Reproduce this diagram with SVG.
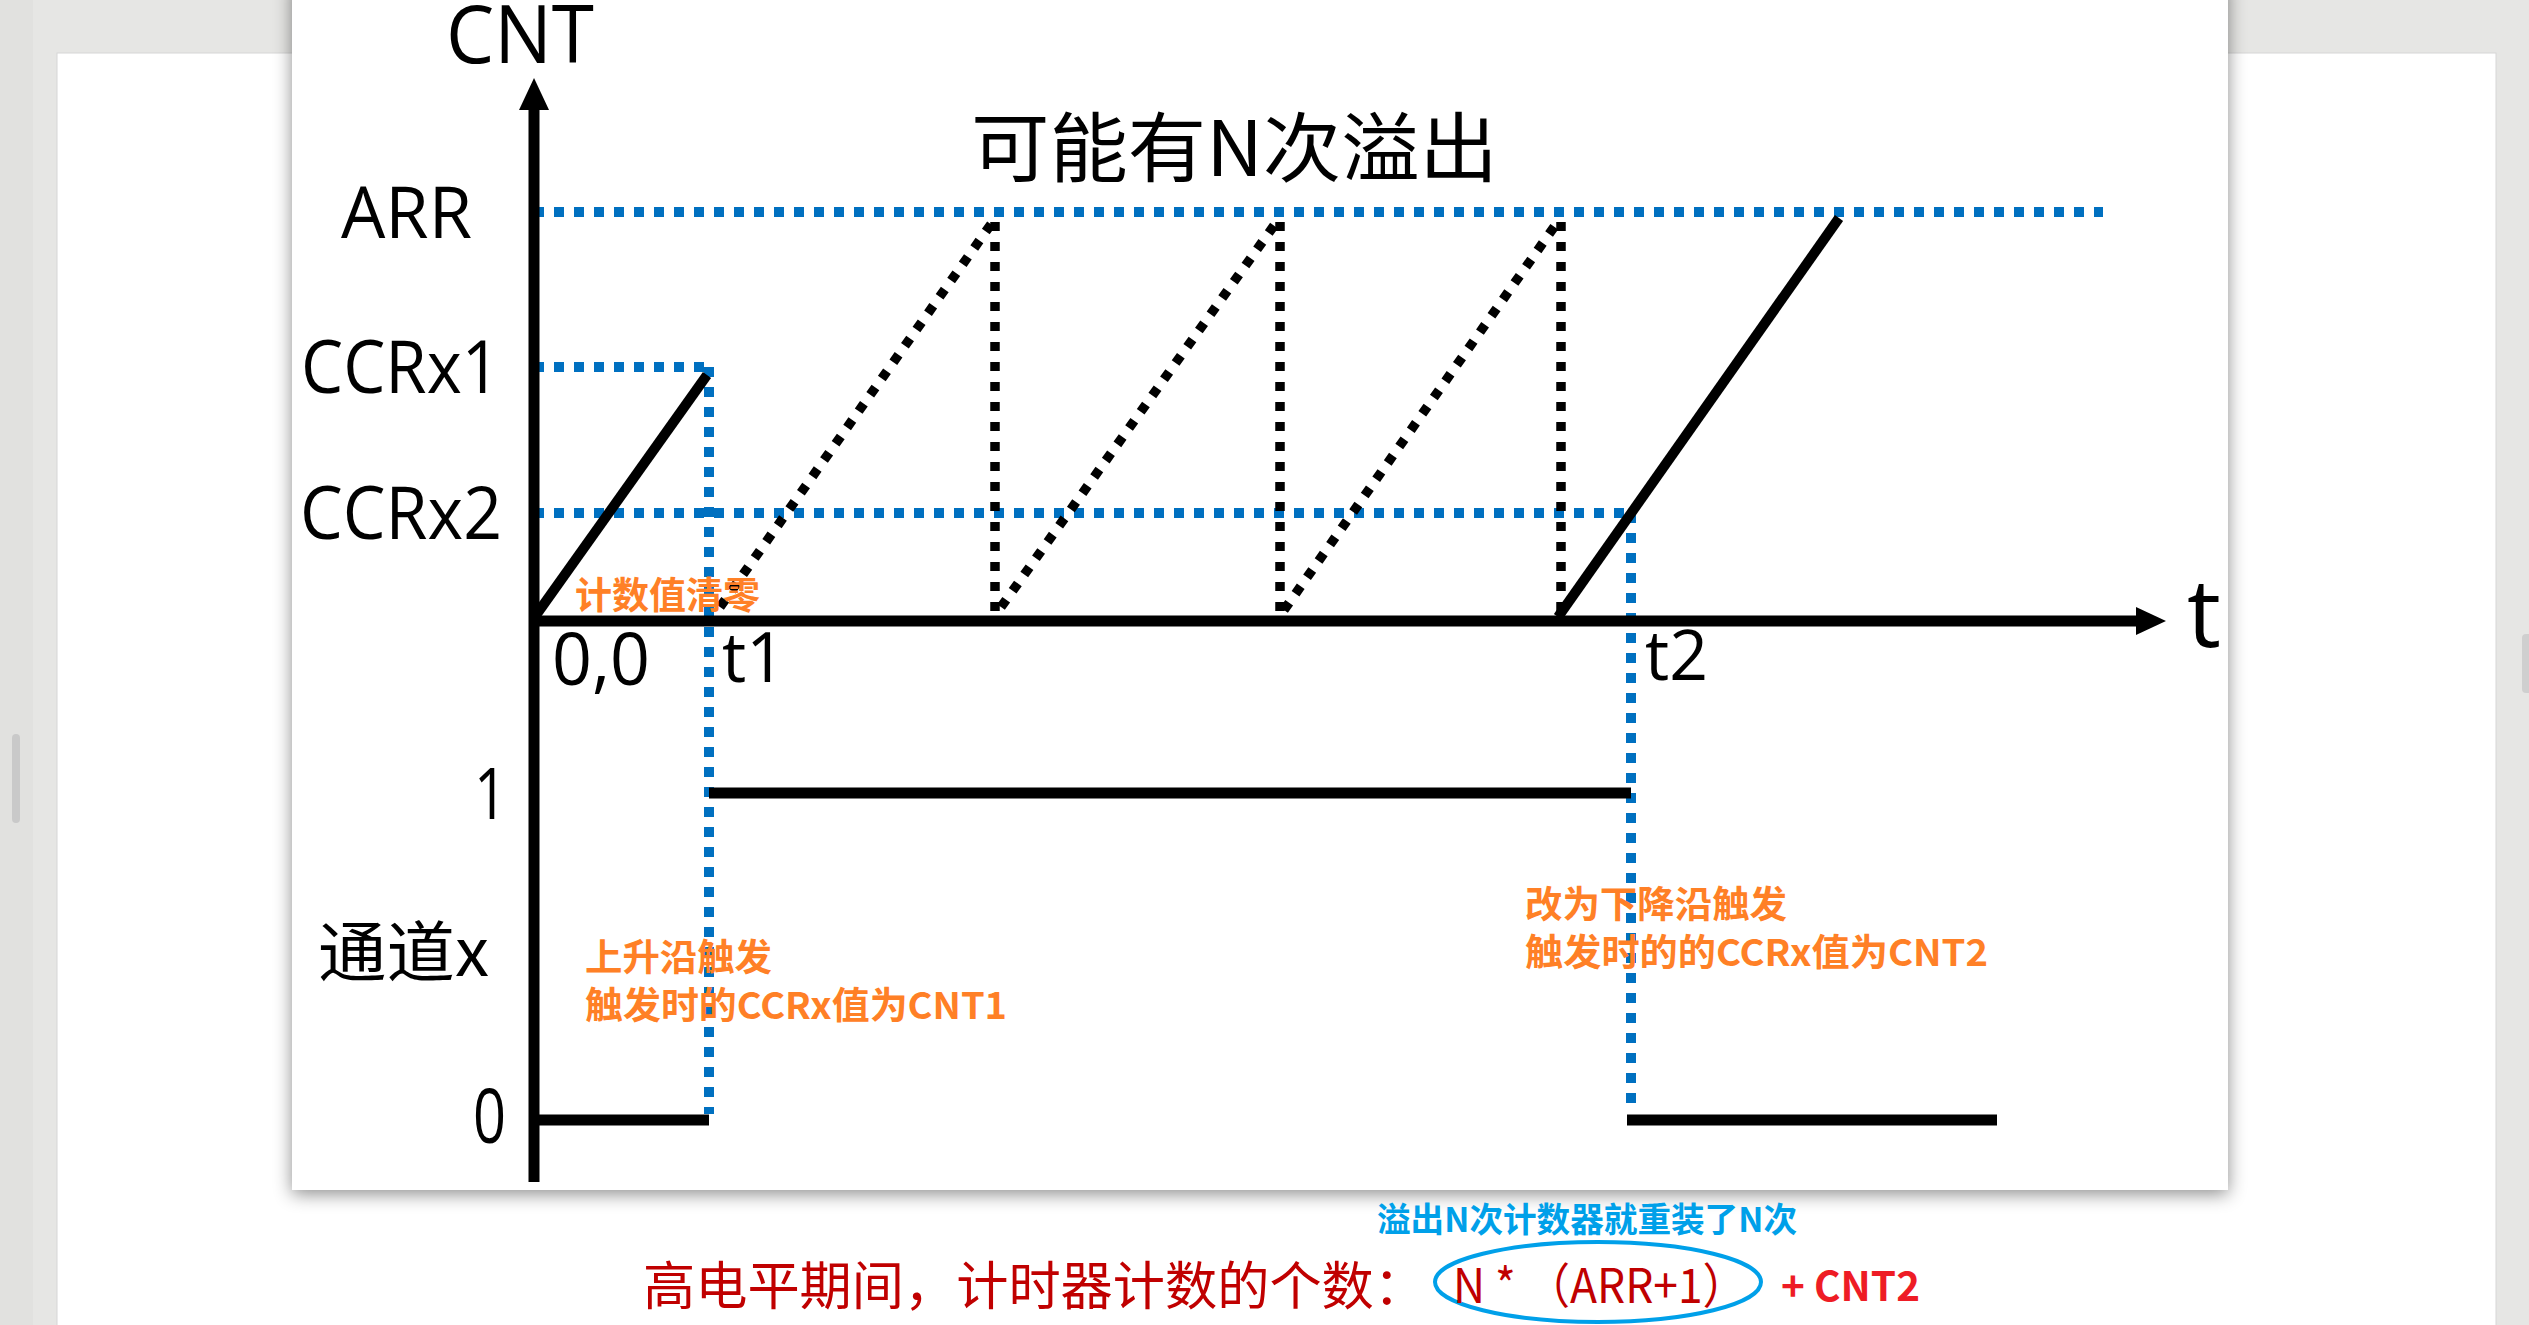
<svg xmlns="http://www.w3.org/2000/svg" width="2529" height="1325" viewBox="0 0 2529 1325">
<defs>
<filter id="shadow" x="-5%" y="-5%" width="110%" height="110%">
<feDropShadow dx="0" dy="4" stdDeviation="9" flood-color="#000" flood-opacity="0.45"/>
</filter>
<style>
.lat{font-family:"Open Sans","Noto Sans",sans-serif;fill:#000}
.cjk{font-family:"Noto Sans CJK SC","Noto Sans",sans-serif;fill:#000}
.org{font-family:"Noto Sans CJK SC","Noto Sans",sans-serif;font-weight:700;fill:#FF8026;font-size:37px}
.blue{stroke:#0070C0;stroke-width:10;stroke-dasharray:10 10;fill:none}
.bdot{stroke:#000;stroke-width:9.5;stroke-dasharray:9 11;fill:none}
.solid{stroke:#000;stroke-width:10;fill:none}
.axis{stroke:#000;stroke-width:11;fill:none}
</style>
</defs>
<g id="background">
<rect x="0" y="0" width="2529" height="1325" fill="#E6E6E4"/>
<rect x="0" y="0" width="33" height="1325" fill="#E1E1DF"/>
<rect x="57" y="53" width="2439" height="1290" fill="#FFFFFF" stroke="#D6D6D6" stroke-width="1"/>
<rect x="12" y="734" width="8" height="89" rx="4" fill="#C9C9C9"/>
<rect x="2522" y="634" width="10" height="59" rx="4" fill="#CFCFCF"/>
</g>
<g id="slide">
<rect x="292" y="-20" width="1936" height="1210" fill="#FFFFFF" filter="url(#shadow)"/>
</g>
<g id="guides">
<line class="blue" x1="534" y1="212" x2="2103" y2="212"/>
<line class="blue" x1="534" y1="367" x2="710" y2="367"/>
<line class="blue" x1="534" y1="513" x2="1631" y2="513"/>
<line class="blue" x1="709" y1="367" x2="709" y2="1114"/>
<line class="blue" x1="1631" y1="513" x2="1631" y2="1112"/>
</g>
<g id="overflow-ramps">
<line class="bdot" x1="720" y1="607" x2="994" y2="220"/>
<line class="bdot" x1="995" y1="222" x2="995" y2="620"/>
<line class="bdot" x1="1001" y1="607" x2="1278" y2="220"/>
<line class="bdot" x1="1280" y1="222" x2="1280" y2="620"/>
<line class="bdot" x1="1284" y1="610" x2="1559" y2="220"/>
<line class="bdot" x1="1561" y1="222" x2="1561" y2="612"/>
</g>
<g id="counter">
<line class="solid" x1="534" y1="618" x2="707" y2="375"/>
<line class="solid" x1="1558" y1="617" x2="1839" y2="218"/>
</g>
<g id="channel">
<line class="axis" x1="534" y1="1120" x2="709" y2="1120"/>
<line class="axis" x1="709" y1="793" x2="1631" y2="793"/>
<line class="axis" x1="1627" y1="1120" x2="1997" y2="1120"/>
</g>
<g id="axes">
<line class="axis" x1="534" y1="1182" x2="534" y2="105"/>
<polygon points="534,78 519,110 549,110" fill="#000"/>
<line class="axis" x1="529" y1="621" x2="2138" y2="621"/>
<polygon points="2166,621 2136,607 2136,635" fill="#000"/>
</g>
<g id="axis-labels">
<text class="lat" x="446" y="63" font-size="80" textLength="148" lengthAdjust="spacingAndGlyphs">CNT</text>
<text class="lat" x="341" y="238" font-size="71" textLength="131" lengthAdjust="spacingAndGlyphs">ARR</text>
<text class="lat" x="301" y="393" font-size="74" textLength="199" lengthAdjust="spacingAndGlyphs">CCRx1</text>
<text class="lat" x="300" y="539" font-size="74" textLength="202" lengthAdjust="spacingAndGlyphs">CCRx2</text>
<text class="lat" x="2187" y="647" font-size="96" textLength="34" lengthAdjust="spacingAndGlyphs">t</text>
<text class="lat" x="552" y="685" font-size="74" textLength="98" lengthAdjust="spacingAndGlyphs">0,0</text>
<text class="lat" x="722" y="682" font-size="70" textLength="63" lengthAdjust="spacingAndGlyphs">t1</text>
<text class="lat" x="1645" y="680" font-size="70" textLength="63" lengthAdjust="spacingAndGlyphs">t2</text>
<text class="lat" x="474" y="819" font-size="72" textLength="33" lengthAdjust="spacingAndGlyphs">1</text>
<text class="lat" x="473" y="1143" font-size="75" textLength="33" lengthAdjust="spacingAndGlyphs">0</text>
<text class="cjk" x="318" y="976" font-size="66" textLength="171" lengthAdjust="spacingAndGlyphs">通道x</text>
<text class="cjk" x="971" y="176" font-size="76" textLength="527" lengthAdjust="spacingAndGlyphs">可能有N次溢出</text>
</g>
<g id="annotations">
<text class="org" x="575" y="609" textLength="185" lengthAdjust="spacingAndGlyphs">计数值清零</text>
<text class="org" x="585" y="971" textLength="187" lengthAdjust="spacingAndGlyphs">上升沿触发</text>
<text class="org" x="585" y="1019" textLength="422" lengthAdjust="spacingAndGlyphs">触发时的CCRx值为CNT1</text>
<text class="org" x="1525" y="918" textLength="262" lengthAdjust="spacingAndGlyphs">改为下降沿触发</text>
<text class="org" x="1525" y="966" textLength="463" lengthAdjust="spacingAndGlyphs">触发时的的CCRx值为CNT2</text>
</g>
<g id="formula">
<text x="1377" y="1232" font-family="Noto Sans CJK SC, Noto Sans, sans-serif" font-weight="700" font-size="34" fill="#00A0E9" textLength="420" lengthAdjust="spacingAndGlyphs">溢出N次计数器就重装了N次</text>
<ellipse cx="1598" cy="1282" rx="163" ry="40" fill="none" stroke="#00A0E9" stroke-width="4"/>
<text x="643" y="1305" font-family="Noto Sans CJK SC, Noto Sans, sans-serif" font-size="52" fill="#C00000" textLength="783" lengthAdjust="spacingAndGlyphs">高电平期间，计时器计数的个数：</text>
<text x="1453" y="1303" font-family="Noto Sans CJK SC, Noto Sans, sans-serif" font-size="48" fill="#C00000" textLength="294" lengthAdjust="spacingAndGlyphs">N * （ARR+1）</text>
<text x="1781" y="1301" font-family="Noto Sans CJK SC, Noto Sans, sans-serif" font-weight="700" font-size="40" fill="#EE1C25" textLength="139" lengthAdjust="spacingAndGlyphs">+ CNT2</text>
</g>
</svg>
